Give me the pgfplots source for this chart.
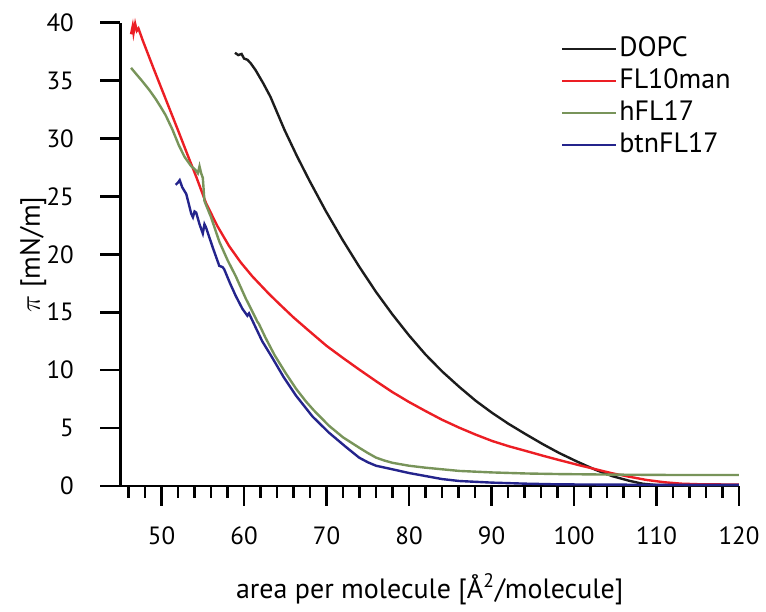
\documentclass[border=0pt]{standalone}
\usepackage{fontspec}
\setmainfont{PT Sans}
\usepackage{pgfplots}
\pgfplotsset{compat=1.18}
\definecolor{cdopc}{RGB}{28,28,28}
\definecolor{cfl}{RGB}{236,30,36}
\definecolor{chfl}{RGB}{120,148,90}
\definecolor{cbtn}{RGB}{36,36,140}

\begin{document}
\begin{tikzpicture}
\begin{axis}[
  width=309.75pt, height=232pt, scale only axis, clip=false,
  xmin=45, xmax=120, ymin=0, ymax=40,
  axis x line*=bottom, axis y line*=left,
  axis line style={-, line width=1.3pt, black},
  xtick={50,60,...,120}, ytick={0,5,...,40},
  minor xtick={46,48,...,118},
  tick align=outside,
  major tick length=10pt, minor tick length=6pt,
  tick style={black, line width=1.3pt},
  /pgf/number format/assume math mode=true,
  tick label style={font=\fontsize{12.5}{14}\selectfont},
  xticklabel style={anchor=center, yshift=-15pt},
  yticklabel style={anchor=east, xshift=-9.75pt},
  xlabel={area per molecule [Å\textsuperscript{2}/molecule]},
  ylabel={$\pi$ [mN/m]},
  label style={font=\fontsize{14}{16}\selectfont},
  xlabel style={at={(axis description cs:0.5,-0.223)}, anchor=center},
  ylabel style={at={(axis description cs:-0.141,0.5)}, anchor=center},
  legend style={at={(0.702,0.984)}, anchor=north west, draw=none, fill=none,
    font=\fontsize{14}{16}\selectfont, row sep=1.5pt,
    nodes={inner sep=1pt, text height=10pt, text depth=2.5pt}},
  legend cell align=left,
  legend image code/.code={\draw[#1] (0pt,0pt) -- (27pt,0pt);},
  every axis plot/.append style={line width=1.2pt},
]
\addplot[cdopc] coordinates {
 (58.9,37.4) (59.3,37.2) (59.7,37.3) (60.0,36.9) (60.4,36.8) (60.8,36.5)
 (61.4,35.9) (62.3,34.8) (63.2,33.6) (64.9,30.75) (66.4,28.5) (67.9,26.4)
 (69.9,23.75) (71.9,21.3) (73.95,18.95) (76.0,16.75) (78.0,14.8) (80.0,13.0)
 (82.0,11.35) (84.0,9.9) (86.1,8.55) (88.1,7.35) (90.1,6.3) (92.1,5.35)
 (94.2,4.45) (96.2,3.62) (98.2,2.85) (100.4,2.1) (102.6,1.4) (104.6,0.86)
 (106.7,0.45) (108.3,0.2) (110,0.08) (115,0.05) (120,0.05)};
\addplot[cfl] coordinates {
 (46.3,39.0) (46.5,39.7) (46.6,39.1) (46.8,39.9) (47.0,39.3) (47.2,39.5)
 (47.7,38.5) (49.0,36.1) (50.5,33.4) (52.0,30.7) (53.2,28.5) (54.2,26.7)
 (55.4,24.4) (56.8,22.4) (58.2,20.7) (59.6,19.3) (61.0,18.1) (61.8,17.5)
 (63.0,16.6) (64.3,15.7) (66.0,14.55) (67.7,13.5) (70.0,12.1) (72.0,11.05)
 (73.95,10.06) (76.0,9.05) (78.0,8.1) (80.0,7.25) (82.0,6.47) (84.0,5.72)
 (86.1,5.03) (88.1,4.43) (90.1,3.88) (92.1,3.43) (94.2,3.02) (96.2,2.62)
 (98.2,2.24) (100.6,1.8) (102.6,1.45) (104.6,1.1) (106.7,0.8) (108.8,0.52)
 (111.0,0.32) (113,0.2) (115.2,0.15) (120,0.12)};
\addplot[chfl] coordinates {
 (46.3,36.1) (47.0,35.5) (47.6,35.0) (48.5,34.2) (49.3,33.4) (50.0,32.6)
 (50.5,32.0) (51.3,30.8) (52.1,29.4) (52.8,28.4) (53.6,27.6) (54.1,27.3)
 (54.4,27.0) (54.6,27.6) (54.8,27.0) (55.0,26.6) (55.2,24.6) (56.0,23.2)
 (57.0,21.1) (58.0,19.5) (59.0,18.1) (60.2,16.2) (61.4,14.5) (61.6,14.2)
 (61.8,14.0) (62.6,12.8) (63.7,11.3) (65.0,9.8) (66.3,8.4) (67.5,7.3)
 (68.5,6.5) (70.3,5.2) (72.0,4.2) (73.95,3.31) (75.0,2.85) (76.0,2.45)
 (77.0,2.2) (78.0,2.0) (80.0,1.75) (82.0,1.58) (86.1,1.3) (90.1,1.17)
 (94.2,1.08) (98.2,1.03) (105,0.98) (112,0.95) (120,0.95)};
\addplot[cbtn] coordinates {
 (51.7,26.0) (52.0,26.2) (52.2,26.4) (52.5,25.8) (53.0,25.2) (53.6,23.5)
 (53.8,23.2) (54.0,23.7) (54.2,23.6) (54.6,22.6) (55.0,21.8) (55.2,22.6)
 (55.4,22.3) (56.2,20.6) (57.0,19.0) (57.4,18.9) (57.6,18.7) (58.3,17.5)
 (59.0,16.4) (59.8,15.3) (60.4,14.7) (60.6,14.9) (61.0,14.3) (62.2,12.5)
 (63.4,11.1) (64.8,9.4) (66.3,7.8) (68.3,6.0) (70.3,4.6) (72.3,3.4)
 (73.95,2.45) (75.0,2.05) (76.0,1.75) (78.0,1.44) (80.0,1.12) (82.0,0.86)
 (84.0,0.6) (86.1,0.43) (90.1,0.29) (94.2,0.2) (98.2,0.14) (110,0.1) (120,0.1)};
\legend{DOPC, FL10man, hFL17, btnFL17}
% major tick marks
\pgfplotsinvokeforeach{50,60,...,120}{
  \draw[black, line width=1.3pt] (axis cs:#1,0) -- ++(0pt,-10pt);}
\pgfplotsinvokeforeach{0,5,...,40}{
  \draw[black, line width=1.3pt] (axis cs:45,#1) -- ++(-10pt,0pt);}
\end{axis}
\path ([shift={(-60.25pt,-60.65pt)}]current axis.south west)
  rectangle ([shift={(13pt,11.35pt)}]current axis.north east);
\end{tikzpicture}
\end{document}
